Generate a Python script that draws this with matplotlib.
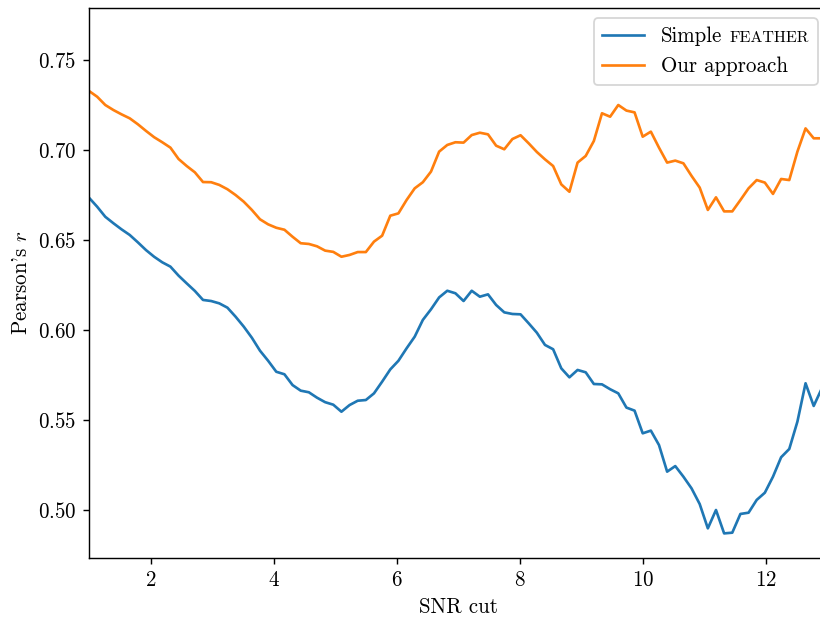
import numpy as np
import matplotlib
matplotlib.use("Agg")
import matplotlib.pyplot as plt
from matplotlib.offsetbox import HPacker, TextArea

# ---- style: LaTeX-like serif look ----
plt.rcParams["font.family"] = "serif"
plt.rcParams["font.serif"] = ["cmr10"]
plt.rcParams["mathtext.fontset"] = "cm"
plt.rcParams["axes.formatter.use_mathtext"] = True
plt.rcParams["axes.unicode_minus"] = False
plt.rcParams["font.size"] = 11.8

# ---- data ----
snr_cut = np.linspace(1, 12.9, 91)

simple_feather = [
    0.6735, 0.6685, 0.6629, 0.6593, 0.6559, 0.6528, 0.6487, 0.6444, 0.6407, 0.6376,
    0.6352, 0.6302, 0.6259, 0.6217, 0.6167, 0.6161, 0.6148, 0.6124, 0.6074, 0.6019,
    0.5957, 0.5885, 0.5829, 0.5768, 0.5754, 0.5694, 0.5663, 0.5654, 0.5624, 0.5599,
    0.5585, 0.5546, 0.5583, 0.5607, 0.5611, 0.5648, 0.5713, 0.5781, 0.5829, 0.5898,
    0.5963, 0.6056, 0.6115, 0.6181, 0.6218, 0.6204, 0.6161, 0.6218, 0.6185, 0.6198,
    0.6139, 0.6098, 0.6089, 0.6087, 0.6037, 0.5985, 0.5917, 0.5893, 0.5787, 0.5737,
    0.5778, 0.5765, 0.5700, 0.5698, 0.5671, 0.5648, 0.5569, 0.5552, 0.5426, 0.5441,
    0.5361, 0.5213, 0.5244, 0.5185, 0.5120, 0.5033, 0.4898, 0.5000, 0.4870, 0.4874,
    0.4978, 0.4985, 0.5056, 0.5096, 0.5185, 0.5293, 0.5339, 0.5491, 0.5704, 0.5578,
    0.5676,
]

our_approach = [
    0.7328, 0.7296, 0.7250, 0.7222, 0.7198, 0.7176, 0.7143, 0.7106, 0.7071, 0.7043,
    0.7013, 0.6950, 0.6911, 0.6876, 0.6822, 0.6821, 0.6806, 0.6782, 0.6750, 0.6713,
    0.6667, 0.6615, 0.6587, 0.6568, 0.6557, 0.6518, 0.6482, 0.6478, 0.6465, 0.6441,
    0.6434, 0.6407, 0.6417, 0.6433, 0.6433, 0.6491, 0.6524, 0.6635, 0.6648, 0.6722,
    0.6787, 0.6821, 0.6880, 0.6991, 0.7028, 0.7043, 0.7041, 0.7083, 0.7096, 0.7087,
    0.7024, 0.7004, 0.7061, 0.7082, 0.7037, 0.6989, 0.6948, 0.6911, 0.6809, 0.6768,
    0.6930, 0.6967, 0.7050, 0.7204, 0.7185, 0.7250, 0.7219, 0.7209, 0.7074, 0.7102,
    0.7013, 0.6930, 0.6941, 0.6926, 0.6856, 0.6791, 0.6667, 0.6737, 0.6659, 0.6659,
    0.6722, 0.6787, 0.6833, 0.6819, 0.6756, 0.6839, 0.6833, 0.6991, 0.7120, 0.7065,
    0.7065,
]

x_ticks = [2, 4, 6, 8, 10, 12]
y_ticks = [0.50, 0.55, 0.60, 0.65, 0.70, 0.75]

# ---- figure ----
fig = plt.figure(figsize=(820 / 128, 617 / 128), dpi=128)
# the right edge of the axes runs past the canvas, as in the reference
ax = fig.add_axes([89 / 820, 59 / 617, 739 / 820, 550 / 617])

ax.plot(snr_cut, simple_feather, color="tab:blue", label="Simple FEATHER")
ax.plot(snr_cut, our_approach, color="tab:orange", label="Our approach")

ax.set_xlim(1, 13)
ax.set_ylim(0.47333, 0.77889)
ax.set_xticks(x_ticks)
ax.set_yticks(y_ticks)
ax.set_xlabel("SNR cut")
ax.set_ylabel("Pearson's $r$")

leg = ax.legend(loc="upper right")

# swap the first legend text for "Simple" + small-caps "FEATHER"
row = leg._legend_handle_box.get_children()[0].get_children()[0]
smallcaps = HPacker(
    children=[TextArea("Simple"),
              TextArea("FEATHER", textprops=dict(fontsize=9))],
    align="baseline", pad=0, sep=4)
smallcaps.set_figure(fig)
row._children[1] = smallcaps

fig.savefig("out.png", dpi=128)
